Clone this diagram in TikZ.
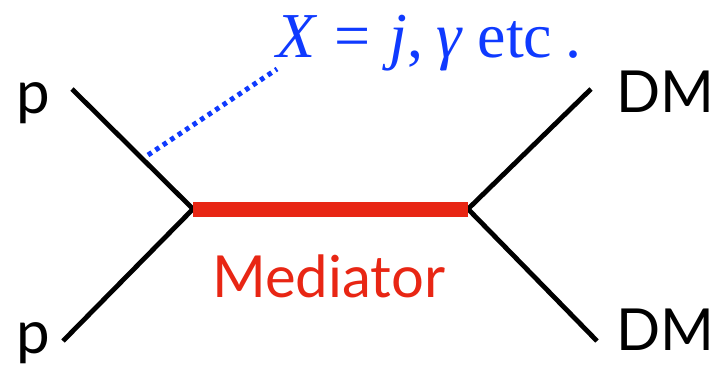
\documentclass[tikz,border=0pt]{standalone}
\usepackage{fontspec}
\setmainfont{Lato}
\newfontfamily\tnr{Liberation Serif}
\definecolor{medred}{RGB}{232,38,20}
\definecolor{xblue}{RGB}{15,58,255}
\begin{document}
\begin{tikzpicture}[x=1pt,y=-1pt,
  leg/.style={line width=4.8pt,black},
  lab/.style={font=\fontsize{60}{60}\selectfont,inner sep=0pt,anchor=base west},
  medline/.style={line width=15pt,medred},
  xline/.style={line width=5pt,xblue,dash pattern=on 4.5pt off 4.5pt}]
\useasboundingbox (0,0) rectangle (717,367);
\coordinate (L) at (193,209);
\coordinate (R) at (468,209);
\coordinate (pin1) at (72,89);
\coordinate (pin2) at (63,341);
\coordinate (dm1) at (591,89);
\coordinate (dm2) at (597,341);
\coordinate (xs) at (148,155);
\coordinate (xe) at (277,69);
\draw[leg] (pin1) -- (L);
\draw[leg] (pin2) -- (L);
\draw[leg] (R) -- (dm1);
\draw[leg] (R) -- (dm2);
\draw[medline] (L) -- (R);
\draw[xline] (xs) -- (xe);
\node[lab] (p1) at (16,113) {p};
\node[lab] (p2) at (16,353) {p};
\node[lab,font=\fontsize{58}{58}\selectfont] (DM1) at (616,112) {DM};
\node[lab,font=\fontsize{58}{58}\selectfont] (DM2) at (616,350) {DM};
\node[lab,text=medred,font=\fontsize{58}{58}\selectfont] (med) at (212,297) {Mediator};
\node[lab,text=xblue,font=\tnr\fontsize{64}{64}\selectfont] (X) at (276,57) {\itshape X\upshape\hspace{0.3em}=\hspace{0.3em}\itshape j\upshape,\hspace{0.2em}\itshape γ\upshape\hspace{0.25em}etc\hspace{0.2em}.};
\end{tikzpicture}
\end{document}
